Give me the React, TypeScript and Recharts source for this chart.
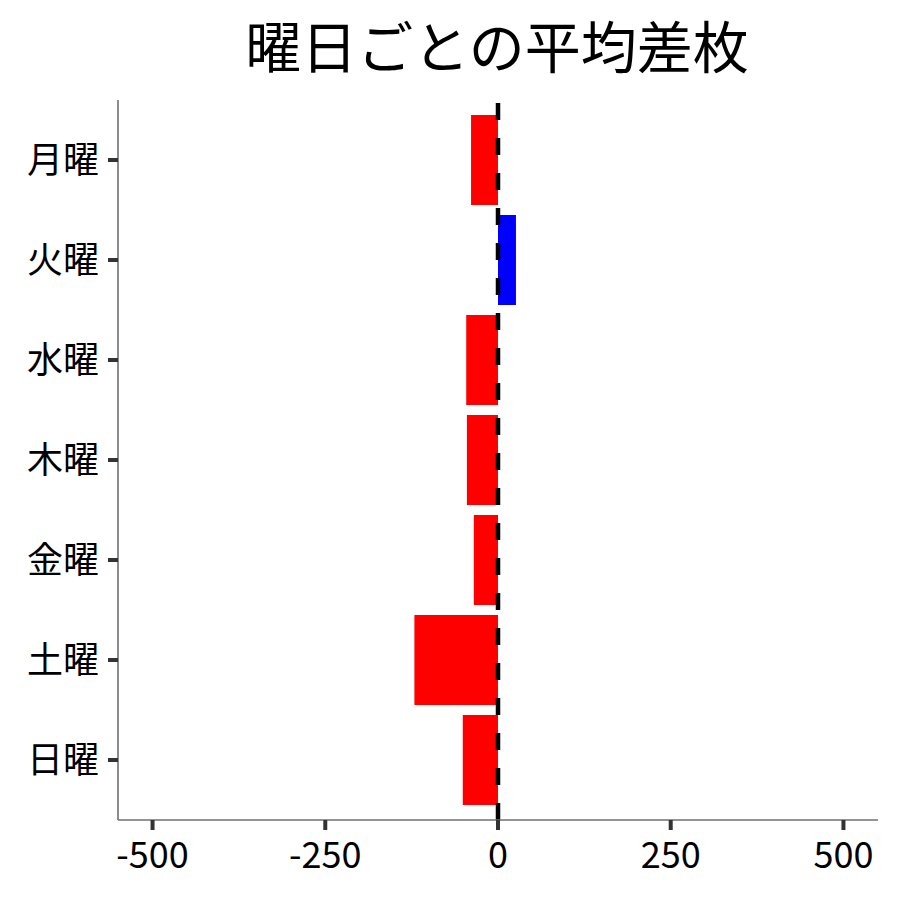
import React from 'react';
import { BarChart, Bar, Cell, XAxis, YAxis, ReferenceLine } from 'recharts';

const days = ['月曜', '火曜', '水曜', '木曜', '金曜', '土曜', '日曜'];
const avgDiff = [-39, 26, -46, -45, -35, -121, -51];
const xTicks = [-500, -250, 0, 250, 500];

const FONT = '"Noto Sans CJK JP", "Noto Sans", sans-serif';

const rows = days.map((d, i) => ({ day: d, diff: avgDiff[i] }));

export default function App() {
  return (
    <div style={{ position: 'absolute', left: 0, top: 0, width: 900, height: 900, background: '#fff' }}>
      <svg width={900} height={100} style={{ position: 'absolute', left: 0, top: 0 }}>
        <text x={497} y={68} textAnchor="middle" fontSize={56} fontFamily={FONT} fill="#000">
          曜日ごとの平均差枚
        </text>
      </svg>
      <BarChart
        width={900}
        height={900}
        data={rows}
        layout="vertical"
        margin={{ top: 100, right: 22, bottom: 0, left: 0 }}
        barCategoryGap={5}
      >
        <XAxis
          type="number"
          domain={[-550, 550]}
          ticks={xTicks}
          height={80}
          tickSize={10}
          tickMargin={12}
          tick={{ fill: '#000', fontSize: 36, fontFamily: FONT }}
          axisLine={{ stroke: '#707070', strokeWidth: 1.6 }}
          tickLine={{ stroke: '#333', strokeWidth: 4 }}
        />
        <YAxis
          type="category"
          dataKey="day"
          width={118}
          padding={{ top: 10, bottom: 10 }}
          tickSize={10}
          tickMargin={9}
          tick={{ fill: '#000', fontSize: 36, fontFamily: FONT }}
          axisLine={{ stroke: '#707070', strokeWidth: 1.6 }}
          tickLine={{ stroke: '#333', strokeWidth: 4 }}
        />
        <Bar dataKey="diff" isAnimationActive={false}>
          {rows.map((r) => (
            <Cell key={r.day} fill={r.diff < 0 ? '#FF0000' : '#0000FF'} />
          ))}
        </Bar>
        <ReferenceLine x={0} stroke="#000" strokeWidth={4.5} strokeDasharray="17 18" />
      </BarChart>
    </div>
  );
}
